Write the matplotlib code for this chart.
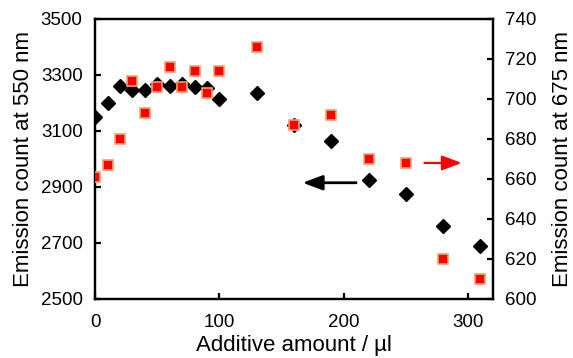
import numpy as np
import matplotlib.pyplot as plt

plt.rcParams['font.family'] = ['Liberation Sans', 'DejaVu Sans']

# 添加量 (µl)
amount = [0, 10, 20, 30, 40, 50, 60, 70, 80, 90, 100, 130, 160, 190, 220, 250, 280, 310]
# 550 nm 发光计数（左轴）
count_550 = [3150, 3200, 3260, 3245, 3245, 3268, 3260, 3268, 3257, 3255, 3215, 3235,
             3120, 3065, 2925, 2875, 2760, 2690]
# 675 nm 发光计数（右轴）
count_675 = [661, 667, 680, 709, 693, 706, 716, 706, 714, 703, 714, 726,
             687, 692, 670, 668, 620, 610]

fig = plt.figure(figsize=(5.73, 3.58), dpi=100)
ax = fig.add_axes([0.166, 0.165, 0.694, 0.782])
ax2 = ax.twinx()

ax.plot(amount, count_550, 'D', color='black', markersize=7, zorder=2)
ax2.plot(amount, count_675, 's', markerfacecolor='#ff0000', markeredgecolor='#f4a070',
         markeredgewidth=1.2, markersize=7, zorder=3)

ax.set_xlim(0, 320)
ax.set_ylim(2500, 3500)
ax2.set_ylim(600, 740)
ax.set_xticks([0, 100, 200, 300])
ax.set_yticks([2500, 2700, 2900, 3100, 3300, 3500])
ax2.set_yticks(np.arange(600, 741, 20))

for a in (ax, ax2):
    for s in a.spines.values():
        s.set_linewidth(1.6)
    a.tick_params(direction='in', length=4, width=1.6, labelsize=13.5, pad=9)
ax.tick_params(axis='x', pad=11)

ax.set_xlabel('Additive amount / µl', fontsize=16, labelpad=3)
ax.set_ylabel('Emission count at 550 nm', fontsize=16, labelpad=5)
ax2.set_ylabel('Emission count at 675 nm', fontsize=16, labelpad=11)

# 指示箭头
style = '-|>,head_length=1.2,head_width=0.45'
ax.annotate('', xy=(167, 2915), xytext=(210, 2915),
            arrowprops=dict(arrowstyle=style, color='black', lw=2,
                            shrinkA=0, shrinkB=0))
ax2.annotate('', xy=(295, 668), xytext=(265, 668),
             arrowprops=dict(arrowstyle=style, color='#ff0000', lw=1.6,
                             shrinkA=0, shrinkB=0))

fig.savefig('out.png', dpi=100)
